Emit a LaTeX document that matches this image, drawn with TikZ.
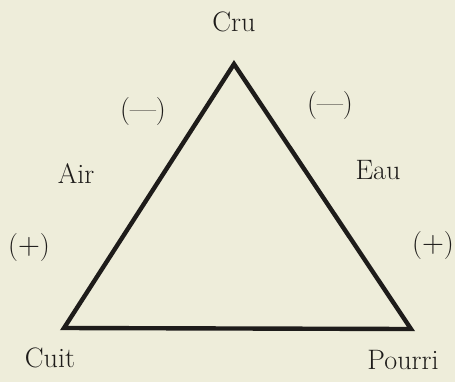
\documentclass[tikz,border=0pt]{standalone}
\usepackage{xcolor}
\definecolor{paper}{RGB}{238,237,218}
\definecolor{ink}{RGB}{30,28,26}
\begin{document}
\begin{tikzpicture}[
  x=0.02cm, y=-0.02cm,
  lbl/.style={
    text=ink,
    font=\fontsize{16}{19}\selectfont,
    inner sep=0pt
  },
  side/.style={line width=2.5pt, draw=ink, line join=miter}
]
\fill[paper] (0,0) rectangle (455,382);
\useasboundingbox (0,0) rectangle (455,382);

\coordinate (cru) at (234,64);
\coordinate (cuit) at (64,328);
\coordinate (pourri) at (411,329);

\draw[side] (cru) -- (cuit) -- (pourri) -- cycle;

\node[lbl] (tcru) at (234,22) {Cru};
\node[lbl] (minusl) at (143,111) {(---)};
\node[lbl] (minusr) at (330,105) {(---)};
\node[lbl] (air) at (76,174) {Air};
\node[lbl] (eau) at (378,170) {Eau};
\node[lbl] (plusl) at (29,247) {($+$)};
\node[lbl] (plusr) at (433,245) {($+$)};
\node[lbl] (tcuit) at (50,358) {Cuit};
\node[lbl] (tpourri) at (403,360) {Pourri};
\end{tikzpicture}
\end{document}
